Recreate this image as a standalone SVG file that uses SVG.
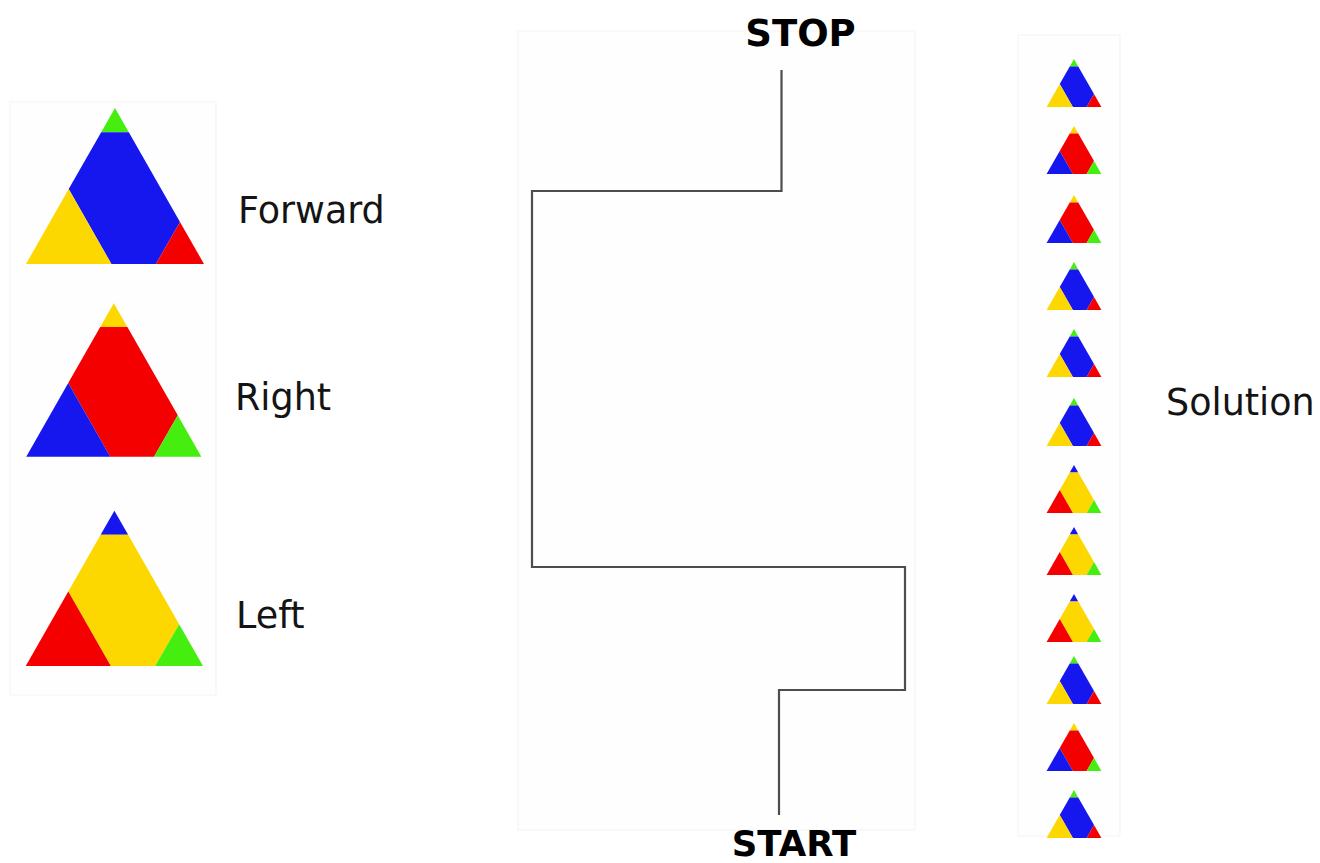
<svg xmlns="http://www.w3.org/2000/svg" xmlns:xlink="http://www.w3.org/1999/xlink" width="1320" height="863" viewBox="0 0 1320 863">
<style>
.b{fill:#1616ee}.r{fill:#f40000}.y{fill:#fcd800}.g{fill:#46ee10}
.panel{fill:#fefefe;stroke:#f3f3f3;stroke-width:1}
.lbl{font-family:"DejaVu Sans","Noto Sans",sans-serif;font-size:36.5px;fill:#141414}
.ttl{font-family:"DejaVu Sans","Noto Sans",sans-serif;font-size:37px;font-weight:bold;fill:#000;text-anchor:middle}
.path{fill:none;stroke:#4d4d4d;stroke-width:2.2;stroke-linejoin:miter}
</style>
<defs>
<!-- apex at 0,0 ; height 156 ; half width 89 -->
<g id="triF">
<polygon class="g" points="0,0 -13.8,24.2 13.8,24.2"/>
<polygon class="b" points="-13.8,24.2 13.8,24.2 65,113.9 40.9,156 -3.6,156 -46.3,81.1"/>
<polygon class="y" points="-89,156 -46.3,81.1 -3.6,156"/>
<polygon class="r" points="40.9,156 65,113.9 89,156"/>
</g>
<g id="triR">
<polygon class="y" points="0,0 -13.8,24.2 13.8,24.2"/>
<polygon class="r" points="-13.8,24.2 13.8,24.2 65,113.9 40.9,156 -3.6,156 -46.3,81.1"/>
<polygon class="b" points="-89,156 -46.3,81.1 -3.6,156"/>
<polygon class="g" points="40.9,156 65,113.9 89,156"/>
</g>
<g id="triL">
<polygon class="b" points="0,0 -13.8,24.2 13.8,24.2"/>
<polygon class="y" points="-13.8,24.2 13.8,24.2 65,113.9 40.9,156 -3.6,156 -46.3,81.1"/>
<polygon class="r" points="-89,156 -46.3,81.1 -3.6,156"/>
<polygon class="g" points="40.9,156 65,113.9 89,156"/>
</g>
</defs>
<rect width="1320" height="863" fill="#fff"/>

<g id="legend">
<rect class="panel" x="10" y="102" width="206" height="593"/>
<g id="forward">
<use href="#triF" transform="translate(115,108)"/>
<text class="lbl" x="238" y="223">Forward</text>
</g>
<g id="right">
<use href="#triR" transform="translate(113.8,303.2) scale(0.984)"/>
<text class="lbl" x="235" y="410">Right</text>
</g>
<g id="left">
<use href="#triL" transform="translate(114.4,510.7) scale(0.996)"/>
<text class="lbl" x="236" y="628">Left</text>
</g>
</g>

<g id="maze">
<rect class="panel" x="518" y="31" width="397" height="799"/>
</g>
<g id="connectors">
<polyline class="path" points="781.5,70 781.5,191 532,191 532,567 905,567 905,690 779,690 779,815"/>
</g>
<g id="stop"><text class="ttl" x="800.5" y="46">STOP</text></g>
<g id="start"><text class="ttl" x="794" y="856" style="font-size:35.5px">START</text></g>

<g id="solution">
<rect class="panel" x="1018" y="35" width="102" height="801"/>
<use href="#triF" transform="translate(1074,59) scale(0.308)"/>
<use href="#triR" transform="translate(1074,126) scale(0.308)"/>
<use href="#triR" transform="translate(1074,195) scale(0.308)"/>
<use href="#triF" transform="translate(1074,262) scale(0.308)"/>
<use href="#triF" transform="translate(1074,329) scale(0.308)"/>
<use href="#triF" transform="translate(1074,398) scale(0.308)"/>
<use href="#triL" transform="translate(1074,465) scale(0.308)"/>
<use href="#triL" transform="translate(1074,527) scale(0.308)"/>
<use href="#triL" transform="translate(1074,594) scale(0.308)"/>
<use href="#triF" transform="translate(1074,656) scale(0.308)"/>
<use href="#triR" transform="translate(1074,723) scale(0.308)"/>
<use href="#triF" transform="translate(1074,790) scale(0.308)"/>
<text class="lbl" x="1166" y="415">Solution</text>
</g>
</svg>
